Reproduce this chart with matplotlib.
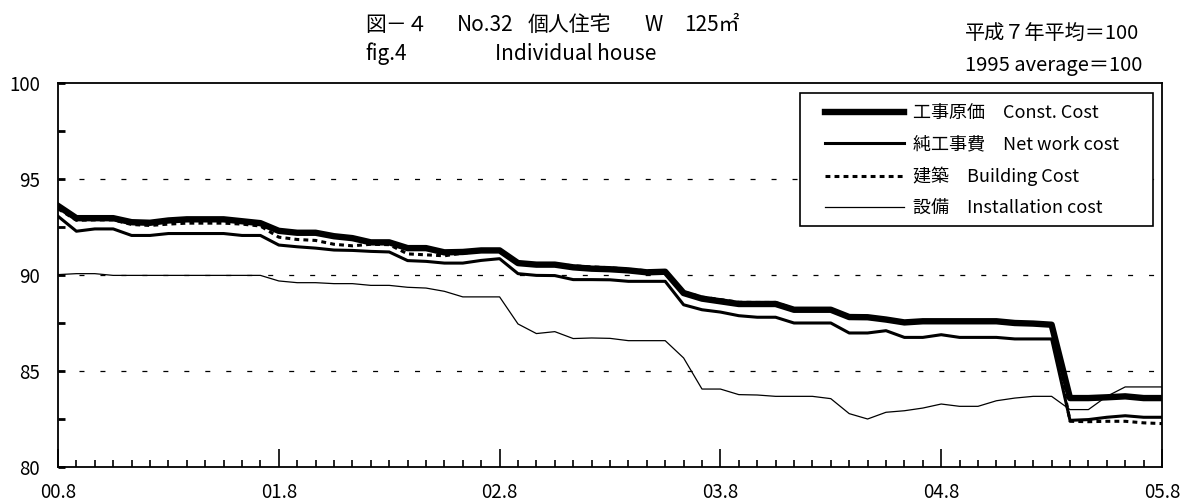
import matplotlib
matplotlib.use("Agg")
import matplotlib.pyplot as plt
from matplotlib.patches import Rectangle
import numpy as np

plt.rcParams["font.family"] = ["Noto Sans CJK JP", "DejaVu Sans"]
plt.rcParams["lines.scale_dashes"] = False

# monthly index data, 2000.8 .. 2005.8
x_labels = ["00.8", "01.8", "02.8", "03.8", "04.8", "05.8"]

const_cost = [93.6, 92.96, 92.96, 92.96, 92.75, 92.72, 92.84, 92.9, 92.9, 92.9,
              92.8, 92.7, 92.3, 92.2, 92.2, 92.02, 91.92, 91.7, 91.7, 91.4,
              91.4, 91.18, 91.2, 91.28, 91.28, 90.62, 90.54, 90.54, 90.4, 90.33,
              90.3, 90.24, 90.14, 90.17, 89.06, 88.77, 88.63, 88.49, 88.49, 88.49,
              88.19, 88.19, 88.19, 87.81, 87.8, 87.68, 87.53, 87.59, 87.59, 87.59,
              87.59, 87.59, 87.5, 87.47, 87.41, 83.59, 83.59, 83.63, 83.68, 83.59,
              83.59]

net_work = [93.06, 92.28, 92.4, 92.4, 92.06, 92.06, 92.16, 92.16, 92.16, 92.16,
            92.06, 92.06, 91.56, 91.47, 91.4, 91.3, 91.28, 91.23, 91.2, 90.75,
            90.71, 90.62, 90.62, 90.76, 90.85, 90.07, 89.98, 89.97, 89.76, 89.76,
            89.75, 89.67, 89.67, 89.67, 88.45, 88.19, 88.07, 87.88, 87.8, 87.8,
            87.5, 87.5, 87.5, 86.98, 86.98, 87.1, 86.75, 86.75, 86.89, 86.75,
            86.75, 86.75, 86.67, 86.67, 86.67, 82.43, 82.47, 82.59, 82.67, 82.59,
            82.59]

building = [93.45, 92.85, 92.87, 92.87, 92.63, 92.58, 92.65, 92.7, 92.7, 92.7,
            92.65, 92.55, 91.97, 91.85, 91.8, 91.6, 91.52, 91.6, 91.58, 91.1,
            91.05, 91.0, 91.14, 91.23, 91.23, 90.6, 90.56, 90.56, 90.48, 90.42,
            90.38, 90.3, 90.22, 90.2, 89.12, 88.85, 88.72, 88.58, 88.57, 88.57,
            88.24, 88.22, 88.22, 87.86, 87.84, 87.72, 87.58, 87.6, 87.6, 87.6,
            87.6, 87.6, 87.52, 87.5, 87.45, 82.38, 82.36, 82.38, 82.38, 82.3,
            82.26]

installation = [90.02, 90.07, 90.07, 89.98, 89.98, 89.98, 89.98, 89.98, 89.98, 89.98,
                89.98, 89.98, 89.69, 89.6, 89.6, 89.55, 89.55, 89.46, 89.46, 89.36,
                89.32, 89.15, 88.86, 88.86, 88.86, 87.45, 86.95, 87.05, 86.69, 86.72,
                86.7, 86.58, 86.58, 86.58, 85.68, 84.06, 84.06, 83.77, 83.75, 83.68,
                83.68, 83.68, 83.56, 82.78, 82.5, 82.85, 82.93, 83.07, 83.28, 83.16,
                83.16, 83.45, 83.59, 83.68, 83.68, 82.99, 82.99, 83.68, 84.17, 84.17,
                84.17]

months = np.arange(len(const_cost))

W, H = 1181, 501
fig = plt.figure(figsize=(W / 100, H / 100), dpi=100)
ax = fig.add_axes([58 / W, 1 - 467 / H, (1162 - 58) / W, (467 - 83) / H])

for y in (85, 90, 95):
    ax.axhline(y, color="black", linewidth=0.9, dashes=(3.6, 11.5), zorder=1)

ax.plot(months, installation, color="black", linewidth=0.9, label="設備　Installation cost", zorder=2)
ax.plot(months, net_work, color="black", linewidth=2.2, label="純工事費　Net work cost", zorder=3)
ax.plot(months, const_cost, color="black", linewidth=4.6, label="工事原価　Const. Cost", zorder=4)
ax.plot(months, building, color="black", linewidth=2.2, dashes=(3.5, 3.0),
        label="建築　Building Cost", zorder=5)

ax.set_xlim(0, 60)
ax.set_ylim(80, 100)

ax.set_xticks(range(0, 61, 12))
ax.set_xticklabels(x_labels)
ax.set_xticks(range(0, 61), minor=True)
ax.tick_params(axis="x", which="major", direction="in", length=13, width=1.2, pad=11, labelsize=13.5)
ax.tick_params(axis="x", which="minor", direction="in", length=5, width=1.2)

yt = np.arange(80, 100.1, 2.5)
ax.set_yticks(yt)
ax.set_yticklabels([f"{v:.0f}" if v % 5 == 0 else "" for v in yt])
ax.tick_params(axis="y", direction="in", length=5, width=2, pad=13, labelsize=13.5)

for s in ax.spines.values():
    s.set_linewidth(1.3)
    s.set_color("black")

# legend frame drawn by hand, entries placed inside it
fig.patches.append(Rectangle((800 / W, 1 - 226 / H), (1153 - 800) / W, (226 - 93) / H,
                             transform=fig.transFigure, facecolor="white",
                             edgecolor="black", linewidth=1.2, zorder=6))
handles, labels = ax.get_legend_handles_labels()
order = [2, 1, 3, 0]
leg = fig.legend([handles[i] for i in order], [labels[i] for i in order],
                 loc="upper left", bbox_to_anchor=(825 / W, 1 - 104 / H),
                 fontsize=13, handlelength=4.4, handletextpad=0.5, labelspacing=0.73,
                 borderpad=0, borderaxespad=0, frameon=False)
leg.set_zorder(7)

title_parts = [("図－４", 365), ("No.32", 457), ("個人住宅", 528), ("W", 644), ("125㎡", 684)]
for txt, xp in title_parts:
    fig.text(xp / W, 1 - 25 / H, txt, fontsize=15, va="center", ha="left")
fig.text(365 / W, 1 - 54 / H, "fig.4", fontsize=15, va="center", ha="left")
fig.text(495 / W, 1 - 54 / H, "Individual house", fontsize=15, va="center", ha="left")
fig.text(965 / W, 1 - 34 / H, "平成７年平均＝100", fontsize=14.5, va="center", ha="left")
fig.text(965 / W, 1 - 66 / H, "1995 average＝100", fontsize=14.5, va="center", ha="left")

fig.savefig("out.png", dpi=100)
